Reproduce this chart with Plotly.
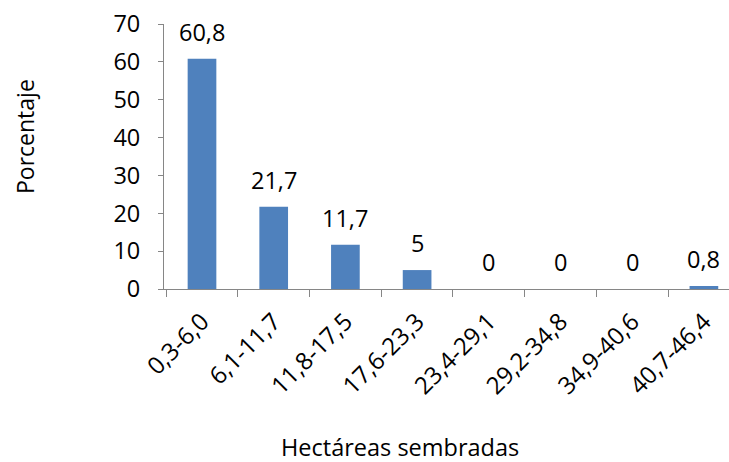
import plotly.graph_objects as go

categories = ["0,3-6,0", "6,1-11,7", "11,8-17,5", "17,6-23,3",
              "23,4-29,1", "29,2-34,8", "34,9-40,6", "40,7-46,4"]
values = [60.8, 21.7, 11.7, 5, 0, 0, 0, 0.8]
value_labels = ["60,8", "21,7", "11,7", "5", "0", "0", "0", "0,8"]
y_ticks = [0, 10, 20, 30, 40, 50, 60, 70]

FONT = "Open Sans"
AX = "#868686"
TXT = 23.5

fig = go.Figure()
fig.add_trace(go.Bar(x=categories, y=values, marker=dict(color="#4F81BD", line=dict(width=0)),
                     hoverinfo="skip"))

for c, v, t in zip(categories, values, value_labels):
    fig.add_annotation(x=c, y=v, text=t, showarrow=False, yanchor="middle", yshift=27,
                       font=dict(family=FONT, size=TXT, color="#000000"))

# plot area spans page x 164..729, y 24..289
fig.add_annotation(xref="paper", yref="paper", x=(400 - 164) / 565, y=-(447 - 289) / 265,
                   text="Hectáreas sembradas", showarrow=False, xanchor="center", yanchor="middle",
                   font=dict(family=FONT, size=23.5, color="#000000"))
fig.add_annotation(xref="paper", yref="paper", x=-(164 - 25) / 565, y=(289 - 137) / 265,
                   text="Porcentaje", showarrow=False, textangle=-90, xanchor="center", yanchor="middle",
                   font=dict(family=FONT, size=23, color="#000000"))

fig.update_layout(
    width=729, height=462,
    margin=dict(l=164, r=0, t=24, b=173),
    paper_bgcolor="white", plot_bgcolor="white",
    bargap=0.6, showlegend=False,
    font=dict(family=FONT, size=TXT, color="#000000"),
)
fig.update_xaxes(type="category", range=[-0.53, 7.35], showline=True, linecolor=AX, linewidth=1,
                 ticks="outside", tickson="boundaries", ticklen=7, tickcolor=AX,
                 tickangle=-45, tickfont=dict(family=FONT, size=24, color="#000000"),
                 ticklabelstandoff=8,
                 showgrid=False, zeroline=False, fixedrange=True)
fig.update_yaxes(range=[0, 70], tickvals=y_ticks, ticktext=[str(v) for v in y_ticks],
                 showline=True, linecolor=AX, linewidth=1, ticks="outside", ticklen=5, tickcolor=AX,
                 tickfont=dict(family=FONT, size=TXT, color="#000000"), ticklabelstandoff=13,
                 showgrid=False, zeroline=False, fixedrange=True)

fig.write_html("out.html", config={"displayModeBar": False},
               post_script="document.body.style.margin='0';document.body.style.overflow='hidden';")
